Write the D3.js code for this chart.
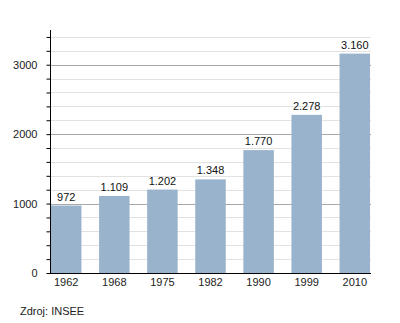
<!DOCTYPE html>
<html>
<head>
<meta charset="utf-8">
<script src="https://cdn.jsdelivr.net/npm/d3@7"></script>
<style>
  html, body { margin: 0; padding: 0; background: #fff; }
  svg { display: block; font-family: "Liberation Sans", Arial, sans-serif; }
</style>
</head>
<body>
<svg id="chart" width="400" height="323"></svg>
<script>
// Population by census year
const years = ["1962", "1968", "1975", "1982", "1990", "1999", "2010"];
const population = [972, 1109, 1202, 1348, 1770, 2278, 3160];
const majorTicks = [0, 1000, 2000, 3000];
const sourceNote = "Zdroj: INSEE";

(function draw() {
  const svg = d3.select("#chart");
  const plotLeft = 50, plotRight = 371, plotTop = 30, plotBottom = 273;

  const x = d3.scaleBand().domain(years).range([plotLeft, plotRight])
    .paddingInner(0.366).paddingOuter(0.02);
  const y = d3.scaleLinear().domain([0, 3500]).range([plotBottom, plotTop]);

  // minor and major gridlines
  const minor = d3.range(200, 3500, 200).filter(v => v % 1000 !== 0);
  svg.append("g").selectAll("line").data(minor).join("line")
    .attr("x1", plotLeft + 1).attr("x2", plotRight)
    .attr("y1", d => Math.round(y(d)) + 0.5).attr("y2", d => Math.round(y(d)) + 0.5)
    .attr("stroke", "#e2e2e2").attr("stroke-width", 1);
  svg.append("g").selectAll("line").data(majorTicks.filter(v => v > 0)).join("line")
    .attr("x1", plotLeft + 1).attr("x2", plotRight)
    .attr("y1", d => Math.round(y(d)) + 0.5).attr("y2", d => Math.round(y(d)) + 0.5)
    .attr("stroke", "#a8a8a8").attr("stroke-width", 1);

  // bars
  svg.append("g").selectAll("rect").data(population).join("rect")
    .attr("x", (d, i) => x(years[i]))
    .attr("width", x.bandwidth())
    .attr("y", d => y(d))
    .attr("height", d => plotBottom - y(d))
    .attr("fill", "#9ab3cc");

  // value labels with dot thousands separator
  const fmt = d3.formatLocale({ decimal: ",", thousands: ".", grouping: [3], currency: ["", ""] }).format(",d");
  svg.append("g").selectAll("text").data(population).join("text")
    .attr("x", (d, i) => x(years[i]) + x.bandwidth() / 2)
    .attr("y", d => y(d) - 5)
    .attr("text-anchor", "middle")
    .attr("font-size", 11).attr("fill", "#111")
    .text(d => fmt(d));

  // y axis
  const yAxis = d3.axisLeft(y).tickValues(d3.range(0, 3501, 200)).tickSize(4)
    .tickFormat(d => majorTicks.includes(d) ? d : "");
  const gy = svg.append("g").attr("transform", `translate(${plotLeft + 0.5},0)`).call(yAxis);
  gy.select(".domain").attr("stroke", "#000").attr("d", `M0,${plotTop}V${plotBottom + 0.5}`);
  gy.selectAll(".tick line").attr("stroke", "#000");
  gy.selectAll(".tick text").attr("x", -13).attr("font-size", 11).attr("fill", "#222")
    .attr("font-family", "Liberation Sans, Arial, sans-serif");

  // x axis
  const xAxis = d3.axisBottom(x).tickSize(0).tickPadding(5);
  const gx = svg.append("g").attr("transform", `translate(0,${plotBottom + 0.5})`).call(xAxis);
  gx.select(".domain").attr("stroke", "#000").attr("d", `M${plotLeft},0H${plotRight}`);
  gx.selectAll(".tick text").attr("font-size", 11).attr("fill", "#222")
    .attr("font-family", "Liberation Sans, Arial, sans-serif");

  // source note
  svg.append("text").attr("x", 20).attr("y", 315)
    .attr("font-size", 11).attr("fill", "#222").text(sourceNote);
})();
</script>
</body>
</html>
